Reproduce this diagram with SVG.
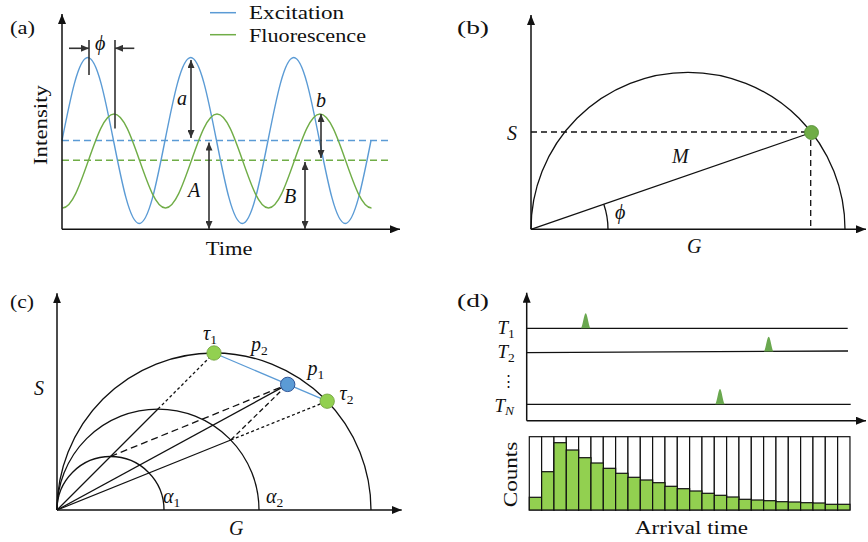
<svg xmlns="http://www.w3.org/2000/svg" width="868" height="542" viewBox="0 0 868 542">
<style>
.t{font-family:"Liberation Serif","Times New Roman",serif;font-size:18px;fill:#111}
.m{font-style:italic;font-size:20px}
.s{font-size:13.5px;font-style:normal}
.sm{font-size:13.5px;font-style:italic}
.ax{stroke:#111;stroke-width:1.5;fill:none}
.ln{stroke:#111;stroke-width:1.3;fill:none}
.ar{stroke:#333;stroke-width:1.6;fill:none}
.bar{fill:#fff;stroke:#111;stroke-width:1.2}
.gb{fill:#92d050;stroke:#111;stroke-width:1.2}
</style>
<defs>
<marker id="ah" viewBox="0 0 10 8" refX="10" refY="4" markerWidth="10" markerHeight="8" markerUnits="userSpaceOnUse" orient="auto-start-reverse"><path d="M0,0 L10,4 L0,8 z" fill="#111"/></marker>
<marker id="sa" viewBox="0 0 8 7" refX="8" refY="3.5" markerWidth="8" markerHeight="7" markerUnits="userSpaceOnUse" orient="auto-start-reverse"><path d="M0,0 L8,3.5 L0,7 z" fill="#333"/></marker>
</defs>

<g id="panel-a">
<text class="t" x="10" y="34" textLength="25" lengthAdjust="spacingAndGlyphs">(a)</text>
<g id="a-legend">
<line x1="210" y1="12.7" x2="236" y2="12.7" stroke="#5b9bd5" stroke-width="1.5"/>
<line x1="210" y1="34.7" x2="236" y2="34.7" stroke="#70ad47" stroke-width="1.5"/>
<text class="t" x="249" y="19" textLength="95" lengthAdjust="spacingAndGlyphs">Excitation</text>
<text class="t" x="249" y="41.5" textLength="117" lengthAdjust="spacingAndGlyphs">Fluorescence</text>
</g>
<g id="a-curves">
<line x1="62" y1="140.5" x2="390" y2="140.5" stroke="#5b9bd5" stroke-width="1.4" stroke-dasharray="7 4"/>
<line x1="62" y1="160.3" x2="390" y2="160.3" stroke="#70ad47" stroke-width="1.4" stroke-dasharray="7 4"/>
<path fill="none" stroke="#5b9bd5" stroke-width="1.4" d="M62,140.5 C70.39,98 78.39,57.5 87.75,57.5 S105.11,98 113.5,140.5 S129.89,223.5 139.25,223.5 S156.61,183 165,140.5 S181.39,57.5 190.75,57.5 S208.11,98 216.5,140.5 S232.89,223.5 242.25,223.5 S259.61,183 268,140.5 S284.39,57.5 293.75,57.5 S311.11,98 319.5,140.5 S335.89,223.5 345.25,223.5 S362.61,183 371,140.5"/>
<path fill="none" stroke="#70ad47" stroke-width="1.4" d="M62.5,208 C71.86,208 79.86,185 88.25,161 S104.64,114 114,114 S131.36,137 139.75,161 S156.14,208 165.5,208 S182.86,185 191.25,161 S207.64,114 217,114 S234.36,137 242.75,161 S259.14,208 268.5,208 S285.86,185 294.25,161 S310.64,114 320,114 S337.36,137 345.75,161 S362.14,208 371.5,208"/>
</g>
<g id="a-axes">
<line class="ax" x1="62" y1="229.3" x2="62" y2="14" marker-end="url(#ah)"/>
<line class="ax" x1="62" y1="229.3" x2="400" y2="229.3" marker-end="url(#ah)"/>
<text class="t" x="205.7" y="255" textLength="46.7" lengthAdjust="spacingAndGlyphs">Time</text>
<text class="t" transform="translate(46.5,125) rotate(-90)" x="0" y="0" text-anchor="middle" textLength="80" lengthAdjust="spacingAndGlyphs">Intensity</text>
</g>
<g id="a-arrows">
<line class="ar" x1="89" y1="40" x2="89" y2="75"/>
<line class="ar" x1="115" y1="40" x2="115" y2="128.5"/>
<line class="ar" x1="69" y1="48.3" x2="89" y2="48.3" marker-end="url(#sa)"/>
<line class="ar" x1="134.3" y1="48.3" x2="115" y2="48.3" marker-end="url(#sa)"/>
<line class="ar" x1="191" y1="60" x2="191" y2="138" marker-start="url(#sa)" marker-end="url(#sa)"/>
<line class="ar" x1="209" y1="142.5" x2="209" y2="229" marker-start="url(#sa)" marker-end="url(#sa)"/>
<line class="ar" x1="321" y1="114" x2="321" y2="158" marker-start="url(#sa)" marker-end="url(#sa)"/>
<line class="ar" x1="305" y1="162" x2="305" y2="229" marker-start="url(#sa)" marker-end="url(#sa)"/>
<text class="t m" x="95" y="50">ϕ</text>
<text class="t m" x="177" y="105">a</text>
<text class="t m" x="188" y="197">A</text>
<text class="t m" x="316" y="107">b</text>
<text class="t m" x="284" y="202.7">B</text>
</g>
</g>

<g id="panel-b">
<text class="t" x="457" y="34" textLength="32" lengthAdjust="spacingAndGlyphs">(b)</text>
<line class="ax" x1="531" y1="229.3" x2="531" y2="15" marker-end="url(#ah)"/>
<line class="ax" x1="531" y1="229.3" x2="866" y2="229.3" marker-end="url(#ah)"/>
<path class="ln" d="M531,229.3 A157,157 0 0 1 845,229.3"/>
<line class="ln" x1="531" y1="132" x2="805" y2="132" stroke-dasharray="6 4"/>
<line class="ln" x1="810.7" y1="140" x2="810.7" y2="229.3" stroke-dasharray="6 4"/>
<line class="ln" x1="531" y1="229.3" x2="811.5" y2="132.5"/>
<path class="ln" d="M608,229.3 A77,77 0 0 0 603.8,204.2"/>
<circle id="b-dot" cx="811.5" cy="132.5" r="7" fill="#70ad47" stroke="#4e8a2e" stroke-width="0.8"/>
<text class="t m" x="507" y="140">S</text>
<text class="t m" x="672" y="163">M</text>
<text class="t m" x="615" y="219">ϕ</text>
<text class="t m" x="687" y="253">G</text>
</g>

<g id="panel-c">
<text class="t" x="10" y="308" textLength="24" lengthAdjust="spacingAndGlyphs">(c)</text>
<line class="ax" x1="57" y1="510" x2="57" y2="293.3" marker-end="url(#ah)"/>
<line class="ax" x1="57" y1="510" x2="401.7" y2="510" marker-end="url(#ah)"/>
<path class="ln" d="M57,510 A157,157 0 0 1 371,510"/>
<path class="ln" d="M57,510 A101,101 0 0 1 259,510"/>
<path class="ln" d="M57,510 A53.5,53.5 0 0 1 164,510"/>
<g id="c-connectors">
<line class="ln" x1="57" y1="510" x2="158" y2="409"/>
<line class="ln" x1="57" y1="510" x2="287.7" y2="384.4"/>
<line class="ln" x1="57" y1="510" x2="230.8" y2="440"/>
<line class="ln" x1="158" y1="409" x2="214" y2="353" stroke-dasharray="3 2.5"/>
<line class="ln" x1="230.8" y1="440" x2="327.2" y2="401.2" stroke-dasharray="3 2.5"/>
<line class="ln" x1="110.5" y1="456.5" x2="287.7" y2="384.4" stroke-dasharray="7 4"/>
<line class="ln" x1="230.8" y1="440" x2="287.7" y2="384.4" stroke-dasharray="5 3"/>
<line x1="214" y1="353" x2="327.2" y2="401.2" stroke="#5b9bd5" stroke-width="1.3"/>
</g>
<circle id="c-tau1" cx="214" cy="353" r="7.2" fill="#92d050" stroke="#6f9e3a" stroke-width="0.8"/>
<circle id="c-tau2" cx="327.2" cy="401.2" r="7.2" fill="#92d050" stroke="#6f9e3a" stroke-width="0.8"/>
<circle id="c-p" cx="287.7" cy="384.4" r="7.2" fill="#5b9bd5" stroke="#2f5597" stroke-width="1"/>
<text class="t m" x="203" y="340">τ<tspan class="s" dy="4">1</tspan></text>
<text class="t m" x="251" y="351">p<tspan class="s" dy="4">2</tspan></text>
<text class="t m" x="307.5" y="375">p<tspan class="s" dy="4">1</tspan></text>
<text class="t m" x="339.5" y="400">τ<tspan class="s" dy="4">2</tspan></text>
<text class="t m" x="34" y="395">S</text>
<text class="t m" x="229" y="535">G</text>
<text class="t m" x="163" y="503">α<tspan class="s" dy="4">1</tspan></text>
<text class="t m" x="266" y="503">α<tspan class="s" dy="4">2</tspan></text>
</g>

<g id="panel-d">
<text class="t" x="457" y="307" textLength="32" lengthAdjust="spacingAndGlyphs">(d)</text>
<line class="ax" x1="526.7" y1="420.7" x2="526.7" y2="292.7" marker-end="url(#ah)"/>
<line class="ax" x1="526.7" y1="420.7" x2="866" y2="420.7" marker-end="url(#ah)"/>
<line class="ln" x1="526.7" y1="328.3" x2="847.7" y2="328.3"/>
<line class="ln" x1="526.7" y1="352.7" x2="848" y2="351"/>
<line class="ln" x1="526.7" y1="404.3" x2="850.7" y2="404.3"/>
<g id="d-pulses" fill="#6aa84f">
<path d="M581,328.3 C583,325 584,313.3 585.7,313.3 C587.4,313.3 588.4,325 590.4,328.3 Z"/>
<path d="M764,351.5 C766,348 767,336.7 768.7,336.7 C770.4,336.7 771.4,348 773.4,351.5 Z"/>
<path d="M715.3,404.3 C717.3,401 718.3,389 720,389 C721.7,389 722.7,401 724.7,404.3 Z"/>
</g>
<text class="t m" x="497.5" y="334" style="font-size:19px">T<tspan class="s" dy="3.5">1</tspan></text>
<text class="t m" x="497.5" y="358.3" style="font-size:19px">T<tspan class="s" dy="3.5">2</tspan></text>
<text class="t" x="508.3" y="386" text-anchor="middle" style="font-family:'DejaVu Serif',serif;font-size:15px">⋮</text>
<text class="t m" x="494.5" y="411.7" style="font-size:19px">T<tspan class="sm" dy="3.5">N</tspan></text>
<g id="d-hist">
<rect class="bar" x="529.3" y="436.7" width="12.33" height="73.3"/>
<rect class="bar" x="541.63" y="436.7" width="12.33" height="73.3"/>
<rect class="bar" x="553.97" y="436.7" width="12.33" height="73.3"/>
<rect class="bar" x="566.3" y="436.7" width="12.33" height="73.3"/>
<rect class="bar" x="578.63" y="436.7" width="12.33" height="73.3"/>
<rect class="bar" x="590.97" y="436.7" width="12.33" height="73.3"/>
<rect class="bar" x="603.3" y="436.7" width="12.33" height="73.3"/>
<rect class="bar" x="615.63" y="436.7" width="12.33" height="73.3"/>
<rect class="bar" x="627.97" y="436.7" width="12.33" height="73.3"/>
<rect class="bar" x="640.3" y="436.7" width="12.33" height="73.3"/>
<rect class="bar" x="652.63" y="436.7" width="12.33" height="73.3"/>
<rect class="bar" x="664.97" y="436.7" width="12.33" height="73.3"/>
<rect class="bar" x="677.3" y="436.7" width="12.33" height="73.3"/>
<rect class="bar" x="689.63" y="436.7" width="12.33" height="73.3"/>
<rect class="bar" x="701.97" y="436.7" width="12.33" height="73.3"/>
<rect class="bar" x="714.3" y="436.7" width="12.33" height="73.3"/>
<rect class="bar" x="726.63" y="436.7" width="12.33" height="73.3"/>
<rect class="bar" x="738.97" y="436.7" width="12.33" height="73.3"/>
<rect class="bar" x="751.3" y="436.7" width="12.33" height="73.3"/>
<rect class="bar" x="763.63" y="436.7" width="12.33" height="73.3"/>
<rect class="bar" x="775.97" y="436.7" width="12.33" height="73.3"/>
<rect class="bar" x="788.3" y="436.7" width="12.33" height="73.3"/>
<rect class="bar" x="800.63" y="436.7" width="12.33" height="73.3"/>
<rect class="bar" x="812.97" y="436.7" width="12.33" height="73.3"/>
<rect class="bar" x="825.3" y="436.7" width="12.33" height="73.3"/>
<rect class="bar" x="837.63" y="436.7" width="12.33" height="73.3"/>
<rect class="gb" x="529.3" y="497.3" width="12.33" height="12.7"/>
<rect class="gb" x="541.63" y="471.7" width="12.33" height="38.3"/>
<rect class="gb" x="553.97" y="442.7" width="12.33" height="67.3"/>
<rect class="gb" x="566.3" y="450" width="12.33" height="60"/>
<rect class="gb" x="578.63" y="457.7" width="12.33" height="52.3"/>
<rect class="gb" x="590.97" y="463" width="12.33" height="47"/>
<rect class="gb" x="603.3" y="468.3" width="12.33" height="41.7"/>
<rect class="gb" x="615.63" y="473.3" width="12.33" height="36.7"/>
<rect class="gb" x="627.97" y="477.3" width="12.33" height="32.7"/>
<rect class="gb" x="640.3" y="480" width="12.33" height="30"/>
<rect class="gb" x="652.63" y="482.7" width="12.33" height="27.3"/>
<rect class="gb" x="664.97" y="486.3" width="12.33" height="23.7"/>
<rect class="gb" x="677.3" y="488.7" width="12.33" height="21.3"/>
<rect class="gb" x="689.63" y="491" width="12.33" height="19"/>
<rect class="gb" x="701.97" y="493.3" width="12.33" height="16.7"/>
<rect class="gb" x="714.3" y="495.3" width="12.33" height="14.7"/>
<rect class="gb" x="726.63" y="497" width="12.33" height="13"/>
<rect class="gb" x="738.97" y="499.3" width="12.33" height="10.7"/>
<rect class="gb" x="751.3" y="500" width="12.33" height="10"/>
<rect class="gb" x="763.63" y="500.7" width="12.33" height="9.3"/>
<rect class="gb" x="775.97" y="501.7" width="12.33" height="8.3"/>
<rect class="gb" x="788.3" y="502" width="12.33" height="8"/>
<rect class="gb" x="800.63" y="502.7" width="12.33" height="7.3"/>
<rect class="gb" x="812.97" y="503" width="12.33" height="7"/>
<rect class="gb" x="825.3" y="504.3" width="12.33" height="5.7"/>
<rect class="gb" x="837.63" y="504.3" width="12.33" height="5.7"/>
</g>
<text class="t" transform="translate(516.7,474.5) rotate(-90)" x="0" y="0" text-anchor="middle" textLength="65.6" lengthAdjust="spacingAndGlyphs">Counts</text>
<text class="t" x="635" y="533.5" textLength="113" lengthAdjust="spacingAndGlyphs">Arrival time</text>
</g>
</svg>
